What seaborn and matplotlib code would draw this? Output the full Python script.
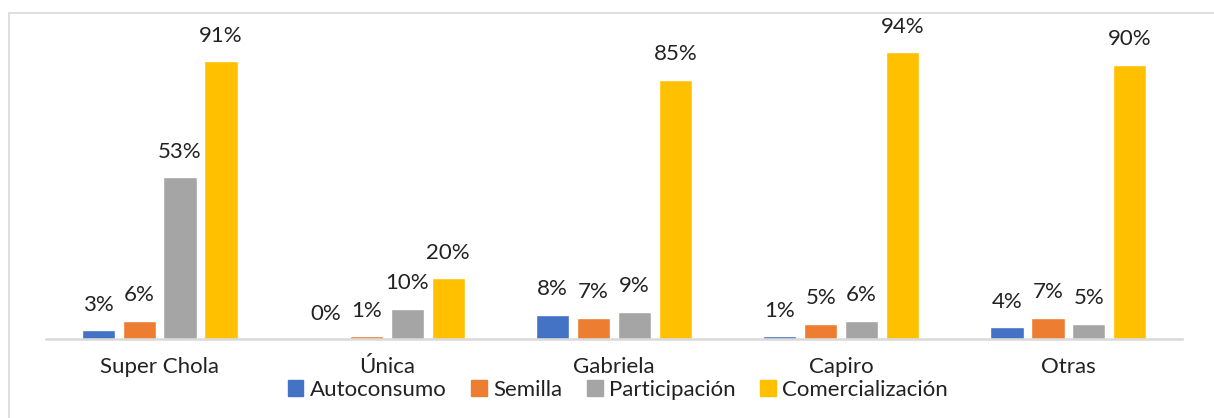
import matplotlib
matplotlib.use("Agg")
import matplotlib.pyplot as plt
import matplotlib.patches as mpatches
import seaborn as sns
import pandas as pd

categorias = ["Super Chola", "Única", "Gabriela", "Capiro", "Otras"]
series = ["Autoconsumo", "Semilla", "Participación", "Comercialización"]
autoconsumo = [3, 0, 8, 1, 4]
semilla = [6, 1, 7, 5, 7]
participacion = [53, 10, 9, 6, 5]
comercializacion = [91, 20, 85, 94, 90]
colores = ["#4472C4", "#ED7D31", "#A5A5A5", "#FFC000"]

filas = []
for s, vals in zip(series, [autoconsumo, semilla, participacion, comercializacion]):
    for c, v in zip(categorias, vals):
        filas.append({"cat": c, "serie": s, "val": v})
df = pd.DataFrame(filas)

sns.set_style("white")
plt.rcParams["font.family"] = ["Lato", "DejaVu Sans"]

fig = plt.figure(figsize=(12.14, 4.18), dpi=100)
ax = fig.add_axes([46 / 1214, 1 - 339 / 418, 1136 / 1214, 305 / 418])

sns.barplot(data=df, x="cat", y="val", hue="serie", palette=colores,
            width=0.72, gap=0.19, ax=ax, legend=False, saturation=1)

for cont in ax.containers:
    ax.bar_label(cont, fmt="%d%%", padding=11, fontsize=16, color="#222222")

ax.set_ylim(0, 100)
ax.set_xlim(-0.5, 4.5)
ax.set_xlabel("")
ax.set_ylabel("")
ax.set_yticks([])
for lado in ["top", "right", "left"]:
    ax.spines[lado].set_visible(False)
ax.spines["bottom"].set_color("#D9D9D9")
ax.spines["bottom"].set_linewidth(1.8)
ax.tick_params(axis="x", length=0, pad=13, labelsize=16, labelcolor="#222222")

handles = [mpatches.Patch(color=c, label=s) for c, s in zip(colores, series)]
fig.legend(handles=handles, loc="center", bbox_to_anchor=(618 / 1214, 1 - 390 / 418),
           ncol=4, frameon=False, fontsize=16, handlelength=0.7, handleheight=0.7,
           handletextpad=0.3, columnspacing=1.1, labelcolor="#222222")

borde = mpatches.Rectangle((9 / 1214, -0.1), 1.2, 1 - 13 / 418 + 0.1,
                           transform=fig.transFigure, fill=False,
                           edgecolor="#D9D9D9", linewidth=1.2)
fig.patches.append(borde)

fig.savefig("out.png", dpi=100)
